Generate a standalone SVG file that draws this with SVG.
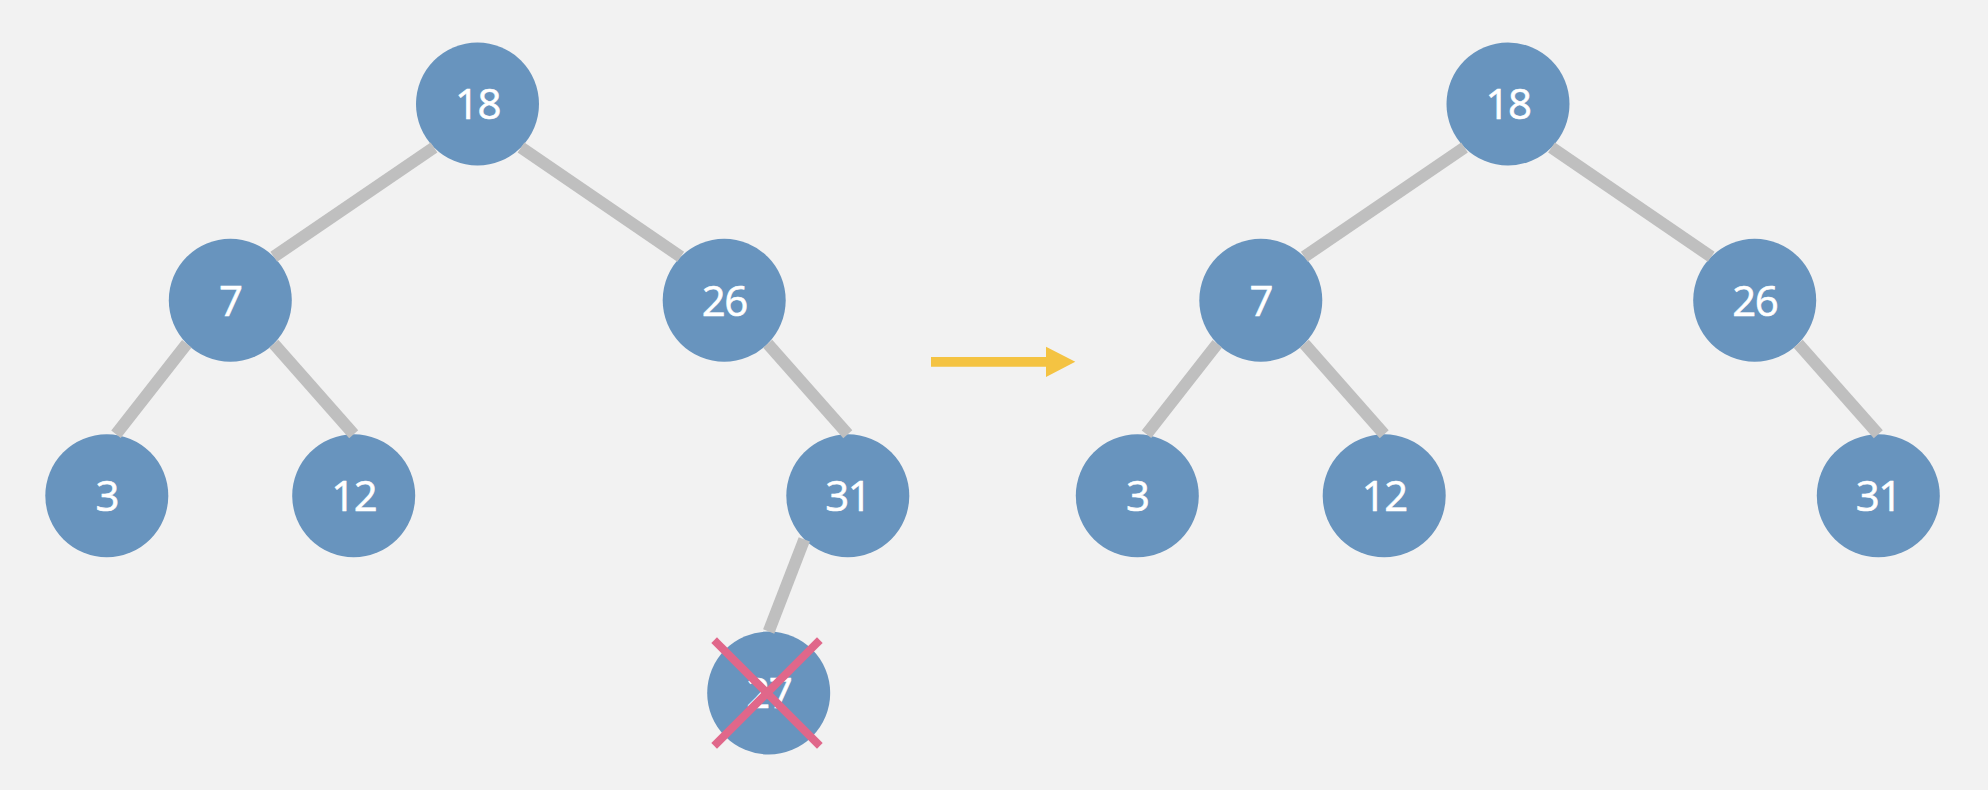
<svg xmlns="http://www.w3.org/2000/svg" width="1988" height="790" viewBox="0 0 1988 790">
<style>
.n{fill:#6894BE}
.t{fill:#ffffff;font-family:"Open Sans","Liberation Sans",sans-serif;font-size:42px;font-weight:400;text-anchor:middle;letter-spacing:-1.5px;stroke:#ffffff;stroke-width:0.6px}
.e{stroke:#BFBFBF;stroke-width:12;stroke-linecap:butt;fill:none}
.x{stroke:#E0678A;stroke-width:8;stroke-linecap:square}
</style>
<rect width="1988" height="790" fill="#F2F2F2"/>
<g id="left-tree">
<g id="L18"><circle class="n" cx="477.5" cy="104" r="61.5"/><text class="t" x="477.5" y="119">18</text></g>
<g id="L7"><circle class="n" cx="230.3" cy="300.3" r="61.5"/><text class="t" x="230.3" y="315.5">7</text></g>
<g id="L26"><circle class="n" cx="724.2" cy="300.3" r="61.5"/><text class="t" x="724.2" y="315.5">26</text></g>
<g id="L3"><circle class="n" cx="106.8" cy="495.8" r="61.5"/><text class="t" x="106.8" y="511">3</text></g>
<g id="L12"><circle class="n" cx="353.7" cy="495.8" r="61.5"/><text class="t" x="353.7" y="511">12</text></g>
<g id="L31"><circle class="n" cx="847.8" cy="495.8" r="61.5"/><text class="t" x="847.8" y="511">31</text></g>
<g id="L27"><circle class="n" cx="768.7" cy="693" r="61.5"/><text class="t" x="768.7" y="708">27</text>
<line class="x" x1="717" y1="643" x2="817" y2="743"/><line class="x" x1="817" y1="643" x2="717" y2="743"/></g>
</g>
<g id="right-tree">
<g id="R18"><circle class="n" cx="1508" cy="104" r="61.5"/><text class="t" x="1508" y="119">18</text></g>
<g id="R7"><circle class="n" cx="1260.8" cy="300.3" r="61.5"/><text class="t" x="1260.8" y="315.5">7</text></g>
<g id="R26"><circle class="n" cx="1754.7" cy="300.3" r="61.5"/><text class="t" x="1754.7" y="315.5">26</text></g>
<g id="R3"><circle class="n" cx="1137.3" cy="495.8" r="61.5"/><text class="t" x="1137.3" y="511">3</text></g>
<g id="R12"><circle class="n" cx="1384.2" cy="495.8" r="61.5"/><text class="t" x="1384.2" y="511">12</text></g>
<g id="R31"><circle class="n" cx="1878.3" cy="495.8" r="61.5"/><text class="t" x="1878.3" y="511">31</text></g>
</g>
<g id="connectors">
<line class="e" x1="434" y1="147.5" x2="273.8" y2="256.8"/>
<line class="e" x1="521" y1="147.5" x2="680.7" y2="256.8"/>
<line class="e" x1="186.8" y1="343.8" x2="116" y2="434.3"/>
<line class="e" x1="273.8" y1="343.8" x2="353.7" y2="434.3"/>
<line class="e" x1="767.7" y1="343.8" x2="847.8" y2="434.3"/>
<line class="e" x1="804.3" y1="539.3" x2="768.7" y2="631.5"/>
<line class="e" x1="1464.5" y1="147.5" x2="1304.3" y2="256.8"/>
<line class="e" x1="1551.5" y1="147.5" x2="1711.2" y2="256.8"/>
<line class="e" x1="1217.3" y1="343.8" x2="1146.5" y2="434.3"/>
<line class="e" x1="1304.3" y1="343.8" x2="1384.2" y2="434.3"/>
<line class="e" x1="1798.2" y1="343.8" x2="1878.3" y2="434.3"/>
</g>
<g id="arrow">
<path d="M931 357H1046V346.7L1075.3 361.8L1046 377V366.7H931Z" fill="#F4C342"/>
</g>
</svg>
